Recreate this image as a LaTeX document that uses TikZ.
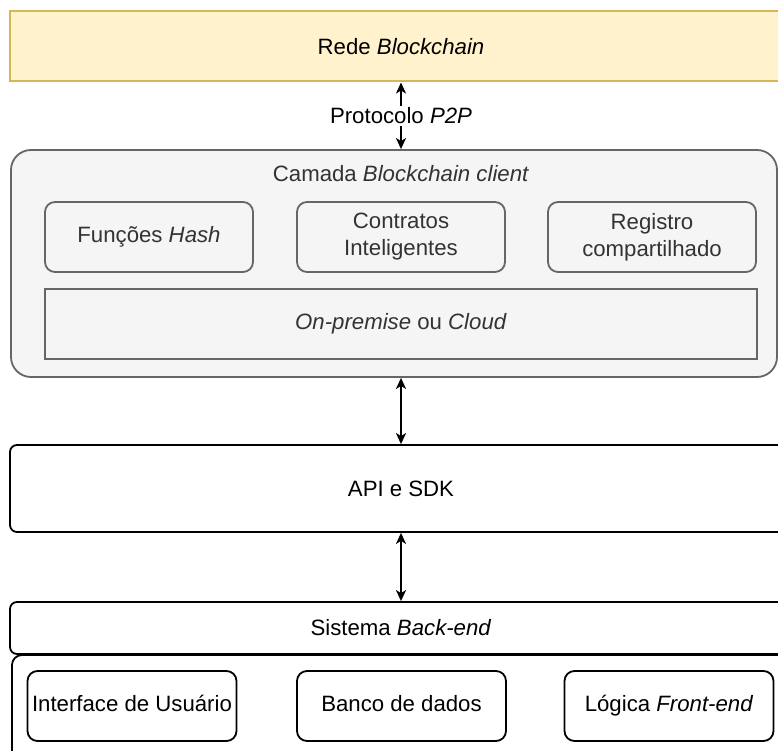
\documentclass[tikz,border=0pt]{standalone}
\usepackage{fontspec}
\setmainfont{Liberation Sans}
\usetikzlibrary{arrows.meta}

\definecolor{redefill}{HTML}{FFF2CC}
\definecolor{rededraw}{HTML}{D6B656}
\definecolor{cinzafill}{HTML}{F5F5F5}
\definecolor{cinzadraw}{HTML}{666666}
\definecolor{cinzatexto}{HTML}{333333}

\tikzset{
  texto/.style={font=\fontsize{22.2}{27}\selectfont, align=center, inner sep=0pt},
  rede/.style={texto, draw=rededraw, fill=redefill, line width=2pt, minimum width=782pt, minimum height=70pt},
  cliente/.style={texto, draw=cinzadraw, fill=cinzafill, text=cinzatexto, line width=1.8pt, rounded corners=20pt},
  funcao/.style={texto, draw=cinzadraw, fill=cinzafill, text=cinzatexto, line width=1.8pt, rounded corners=10pt, minimum width=208pt, minimum height=70pt},
  camada/.style={texto, draw=black, fill=white, line width=1.8pt, rounded corners=7pt, minimum width=782pt},
  modulo/.style={texto, draw=black, fill=white, line width=1.8pt, rounded corners=10pt, minimum width=209pt, minimum height=70pt, text height=16pt, text depth=4.5pt},
  flecha/.style={{Stealth[length=11pt,width=10pt,inset=3pt]}-{Stealth[length=11pt,width=10pt,inset=3pt]}, line width=1.8pt},
}

\begin{document}
\begin{tikzpicture}[x=1pt, y=-1pt]
  \useasboundingbox (0,0) rectangle (778,751);
  \clip (0,0) rectangle (778,751);

  % rede
  \node[rede] (rede) at (401, 46.5) {Rede \textit{Blockchain}};

  % camada blockchain client
  \node[cliente, minimum width=766pt, minimum height=227pt] (cliente) at (394, 263.5) {};
  \node[texto, text=cinzatexto] (titulo) at (401, 174) {Camada \textit{Blockchain client}};
  \node[funcao] (hash) at (149, 237) {Funções \textit{Hash}};
  \node[funcao] (contratos) at (401, 237) {Contratos\\Inteligentes};
  \node[funcao] (registro) at (652, 237) {Registro\\compartilhado};
  \node[funcao, rounded corners=0pt, minimum width=712pt] (nuvem) at (401, 324) {\textit{On-premise} ou \textit{Cloud}};

  % api e back-end
  \node[camada, minimum height=87pt] (api) at (401, 488.5) {API e SDK};
  \node[camada, minimum height=52pt] (backend) at (401, 628) {Sistema \textit{Back-end}};
  \node[camada, rounded corners=10pt, minimum width=780pt, minimum height=120pt] (base) at (402, 715) {};
  \node[modulo] (interface) at (132, 706) {Interface de Usuário};
  \node[modulo] (banco) at (401.5, 706) {Banco de dados};
  \node[modulo] (logica) at (669, 706) {Lógica \textit{Front-end}};

  % conexoes
  \draw[flecha] (rede.south -| contratos.center) -- (cliente.north -| contratos.center)
    node[midway, texto, fill=white, inner sep=2pt] {Protocolo \textit{P2P}};
  \draw[flecha] (cliente.south -| contratos.center) -- (api.north -| contratos.center);
  \draw[flecha] (api.south -| contratos.center) -- (backend.north -| contratos.center);
\end{tikzpicture}
\end{document}
